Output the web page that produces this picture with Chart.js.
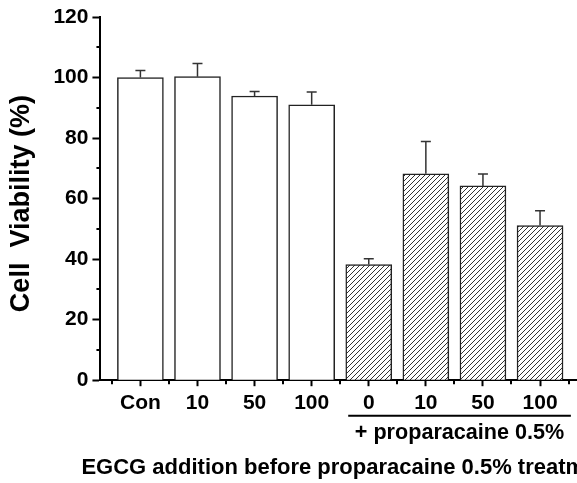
<!DOCTYPE html>
<html lang="en">
<head>
<meta charset="UTF-8">
<meta name="viewport" content="width=device-width, initial-scale=1.0">
<title>Cell Viability</title>
<script src="https://cdn.jsdelivr.net/npm/chart.js"></script>
<style>
  html, body {
    margin: 0;
    padding: 0;
    overflow: hidden;
    background: #fff;
  }
  canvas {
    display: block;
  }
</style>
</head>
<body>
<canvas id="viabilityChart" width="620" height="483"></canvas>
<script>
const categories = ['Con', '10', '50', '100', '0', '10', '50', '100'];
const viability = [100, 100.3, 93.9, 91.0, 38.2, 68.2, 64.2, 51.1];
const viabilityErr = [2.3, 4.3, 1.5, 4.2, 1.9, 10.7, 3.9, 4.9];
const withProparacaine = [false, false, false, false, true, true, true, true];
const yMinorTicks = [10, 30, 50, 70, 90, 110];

const FONT = 'Arial, "Liberation Sans", sans-serif';

const canvas = document.getElementById('viabilityChart');
const ctx = canvas.getContext('2d');

// diagonal hatch for the proparacaine bars
function makeHatch() {
  const c = document.createElement('canvas');
  c.width = 5;
  c.height = 5;
  const g = c.getContext('2d');
  g.fillStyle = '#fff';
  g.fillRect(0, 0, 5, 5);
  g.strokeStyle = '#333';
  g.lineWidth = 1;
  g.beginPath();
  g.moveTo(0, 5); g.lineTo(5, 0);
  g.moveTo(-1, 1); g.lineTo(1, -1);
  g.moveTo(4, 6); g.lineTo(6, 4);
  g.stroke();
  return ctx.createPattern(c, 'repeat');
}
const hatch = makeHatch();

const extras = {
  id: 'extras',
  afterDraw(chart) {
    const x = chart.scales.x;
    const y = chart.scales.y;
    const area = chart.chartArea;
    const c = chart.ctx;
    c.save();

    // minor ticks
    c.strokeStyle = '#000';
    c.lineWidth = 2;
    c.beginPath();
    yMinorTicks.forEach(v => {
      const py = Math.round(y.getPixelForValue(v));
      c.moveTo(area.left - 4, py);
      c.lineTo(area.left, py);
    });
    for (let i = -1; i < categories.length + 1; i++) {
      const px = Math.round(x.getPixelForValue(i + 0.5));
      c.moveTo(px, area.bottom);
      c.lineTo(px, area.bottom + 4);
    }
    c.stroke();

    // error bars (upper only)
    c.strokeStyle = '#333';
    c.lineWidth = 1.5;
    c.beginPath();
    viability.forEach((v, i) => {
      const px = x.getPixelForValue(i);
      const y0 = y.getPixelForValue(v);
      const y1 = y.getPixelForValue(v + viabilityErr[i]);
      c.moveTo(px, y0);
      c.lineTo(px, y1);
      c.moveTo(px - 5, y1);
      c.lineTo(px + 5, y1);
    });
    c.stroke();

    // bracket under the proparacaine group
    const x0 = x.getPixelForValue(3.64);
    const x1 = x.getPixelForValue(7.54);
    const by = area.bottom + 35.5;
    c.strokeStyle = '#000';
    c.lineWidth = 2;
    c.beginPath();
    c.moveTo(x0, by);
    c.lineTo(x1, by);
    c.stroke();
    c.fillStyle = '#000';
    c.font = 'bold 21.6px ' + FONT;
    c.textAlign = 'center';
    c.textBaseline = 'middle';
    c.fillText('+ proparacaine 0.5%', (x0 + x1) / 2, by + 17);

    // axis titles (drawn here so they are not squeezed to the axis width)
    c.font = 'bold 22px ' + FONT;
    c.textAlign = 'left';
    c.fillText('EGCG addition before proparacaine 0.5% treatment', area.left - 19, area.bottom + 88);

    c.font = 'bold 27px ' + FONT;
    c.textAlign = 'center';
    c.translate(22, (area.top + area.bottom) / 2 + 5);
    c.rotate(-Math.PI / 2);
    c.fillText('Cell  Viability (%)', 0, 0);
    c.restore();
  }
};

new Chart(ctx, {
  type: 'bar',
  data: {
    datasets: [{
      data: viability.map((v, i) => ({ x: i, y: v })),
      backgroundColor: withProparacaine.map(p => p ? hatch : '#ffffff'),
      borderColor: '#222',
      borderWidth: 1.5,
      barThickness: 46
    }]
  },
  options: {
    responsive: false,
    animation: false,
    layout: {
      padding: { top: 17, left: 49.4, right: 40, bottom: 63.6 }
    },
    scales: {
      x: {
        type: 'linear',
        min: -0.7,
        max: 7.7,
        offset: false,
        afterBuildTicks: scale => {
          scale.ticks = categories.map((_, i) => ({ value: i }));
        },
        ticks: {
          callback: v => categories[v],
          font: { family: FONT, size: 21, weight: 'bold' },
          color: '#000',
          padding: 4,
          maxRotation: 0,
          autoSkip: false
        },
        grid: {
          offset: false,
          drawOnChartArea: false,
          tickLength: 6,
          tickWidth: 2,
          tickColor: '#000'
        },
        border: { color: '#000', width: 2 }
      },
      y: {
        min: 0,
        max: 120,
        ticks: {
          stepSize: 20,
          font: { family: FONT, size: 21, weight: 'bold' },
          color: '#000',
          padding: 4
        },
        grid: {
          drawOnChartArea: false,
          tickLength: 8,
          tickWidth: 2,
          tickColor: '#000'
        },
        border: { color: '#000', width: 2 }
      }
    },
    plugins: {
      legend: { display: false },
      tooltip: { enabled: false }
    }
  },
  plugins: [extras]
});
</script>
</body>
</html>
